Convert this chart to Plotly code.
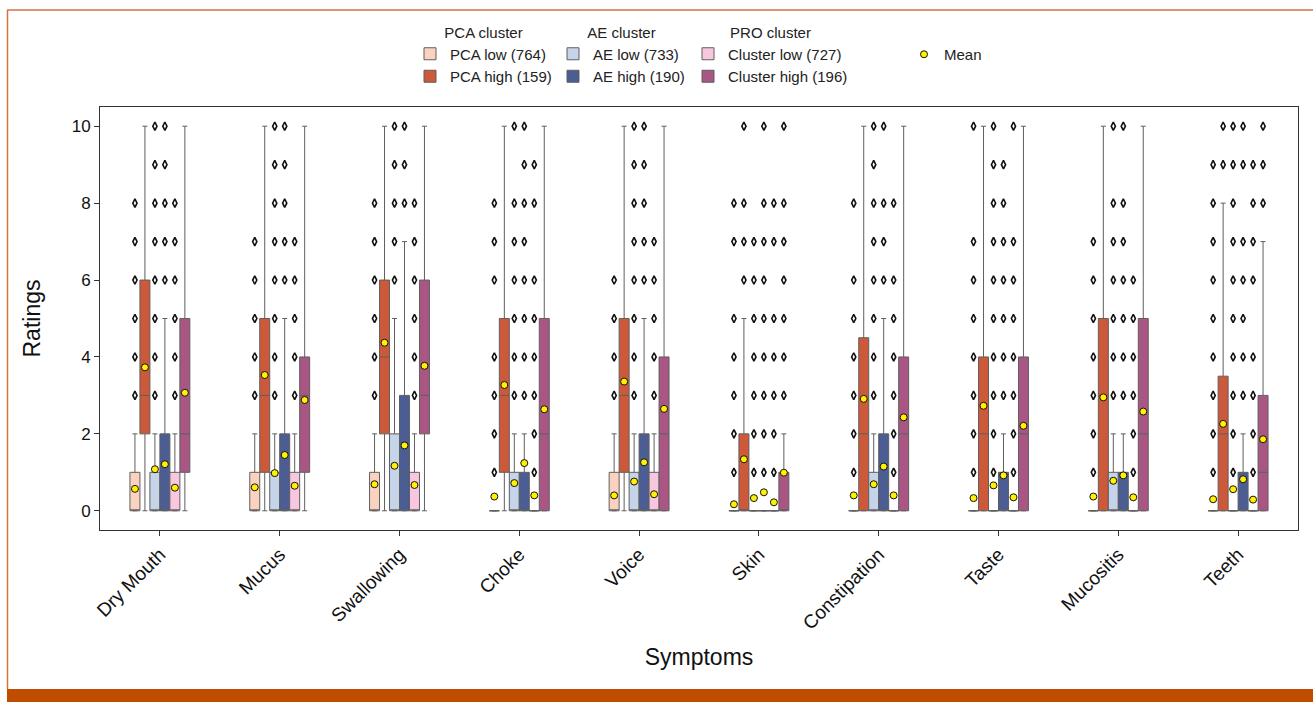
import plotly.graph_objects as go

# ---------------------------------------------------------------- data
SYMPTOMS = ["Dry Mouth", "Mucus", "Swallowing", "Choke", "Voice", "Skin",
            "Constipation", "Taste", "Mucositis", "Teeth"]

CLUSTER_NAMES = ["PCA low (764)", "PCA high (159)", "AE low (733)",
                 "AE high (190)", "Cluster low (727)", "Cluster high (196)"]

# PCA low
PCA_LOW_Q1 = [0, 0, 0, 0, 0, 0, 0, 0, 0, 0]
PCA_LOW_MED = [0, 0, 0, 0, 0, 0, 0, 0, 0, 0]
PCA_LOW_Q3 = [1, 1, 1, 0, 1, 0, 0, 0, 0, 0]
PCA_LOW_LO = [0, 0, 0, 0, 0, 0, 0, 0, 0, 0]
PCA_LOW_HI = [2, 2, 2, 0, 2, 0, 0, 0, 0, 0]
PCA_LOW_MEAN = [0.57, 0.61, 0.69, 0.37, 0.40, 0.17, 0.40, 0.33, 0.37, 0.30]
PCA_LOW_OUT = [[3, 4, 5, 6, 7, 8], [3, 4, 5, 6, 7], [3, 4, 5, 6, 7, 8],
               [1, 2, 3, 4, 6, 7, 8], [3, 4, 5, 6], [1, 2, 3, 4, 5, 7, 8],
               [1, 2, 3, 4, 5, 6, 8], [1, 2, 3, 4, 5, 6, 7, 10],
               [1, 2, 3, 4, 5, 6, 7], [1, 2, 3, 4, 5, 6, 7, 8, 9]]

# PCA high
PCA_HIGH_Q1 = [2, 1, 2, 1, 1, 0, 0, 0, 0, 0]
PCA_HIGH_MED = [3, 3, 4, 3, 3, 0, 2, 2, 3, 2]
PCA_HIGH_Q3 = [6, 5, 6, 5, 5, 2, 4.5, 4, 5, 3.5]
PCA_HIGH_LO = [0, 0, 0, 0, 0, 0, 0, 0, 0, 0]
PCA_HIGH_HI = [10, 10, 10, 10, 10, 5, 10, 10, 10, 8]
PCA_HIGH_MEAN = [3.73, 3.53, 4.37, 3.27, 3.36, 1.34, 2.91, 2.73, 2.95, 2.26]
PCA_HIGH_OUT = [[], [], [], [], [], [6, 7, 8, 10], [], [], [], [9, 10]]

# AE low
AE_LOW_Q1 = [0, 0, 0, 0, 0, 0, 0, 0, 0, 0]
AE_LOW_MED = [0, 0, 0, 0, 0, 0, 0, 0, 0, 0]
AE_LOW_Q3 = [1, 1, 2, 1, 1, 0, 1, 0, 1, 0]
AE_LOW_LO = [0, 0, 0, 0, 0, 0, 0, 0, 0, 0]
AE_LOW_HI = [2, 2, 5, 2, 2, 0, 2, 0, 2, 0]
AE_LOW_MEAN = [1.08, 0.98, 1.17, 0.72, 0.76, 0.33, 0.69, 0.66, 0.78, 0.56]
AE_LOW_OUT = [[3, 4, 5, 6, 7, 8, 9, 10], [3, 4, 5, 6, 7, 8, 9, 10],
              [6, 7, 8, 9, 10], [3, 4, 5, 6, 7, 8, 10],
              [3, 4, 5, 6, 7, 8, 9, 10], [1, 2, 3, 4, 5, 6, 7],
              [3, 4, 5, 6, 7, 8, 9, 10], [1, 2, 3, 4, 5, 6, 7, 8, 9, 10],
              [3, 4, 5, 6, 7, 8, 10], [1, 2, 3, 4, 5, 6, 7, 8, 9, 10]]

# AE high
AE_HIGH_Q1 = [0, 0, 0, 0, 0, 0, 0, 0, 0, 0]
AE_HIGH_MED = [0, 0, 1, 0, 0, 0, 0, 0, 0, 0]
AE_HIGH_Q3 = [2, 2, 3, 1, 2, 0, 2, 1, 1, 1]
AE_HIGH_LO = [0, 0, 0, 0, 0, 0, 0, 0, 0, 0]
AE_HIGH_HI = [5, 5, 7, 2, 5, 0, 5, 2, 2, 2]
AE_HIGH_MEAN = [1.21, 1.45, 1.70, 1.24, 1.26, 0.48, 1.15, 0.92, 0.92, 0.82]
AE_HIGH_OUT = [[6, 7, 8, 9, 10], [6, 7, 8, 9, 10], [8, 9, 10],
               [3, 4, 5, 6, 7, 8, 9, 10], [6, 7, 8, 9, 10],
               [1, 2, 3, 4, 5, 6, 7, 8, 10], [6, 7, 8, 10],
               [3, 4, 5, 6, 7, 8, 9], [3, 4, 5, 6, 7, 8, 10],
               [3, 4, 5, 6, 7, 9, 10]]

# PRO cluster low
PRO_LOW_Q1 = [0, 0, 0, 0, 0, 0, 0, 0, 0, 0]
PRO_LOW_MED = [0, 0, 0, 0, 0, 0, 0, 0, 0, 0]
PRO_LOW_Q3 = [1, 1, 1, 0, 1, 0, 0, 0, 0, 0]
PRO_LOW_LO = [0, 0, 0, 0, 0, 0, 0, 0, 0, 0]
PRO_LOW_HI = [2, 2, 2, 0, 2, 0, 0, 0, 0, 0]
PRO_LOW_MEAN = [0.60, 0.65, 0.67, 0.40, 0.43, 0.22, 0.40, 0.35, 0.35, 0.29]
PRO_LOW_OUT = [[3, 4, 5, 6, 7, 8], [3, 4, 5, 6, 7], [3, 4, 5, 6, 7, 8],
               [1, 2, 3, 4, 5, 6, 8, 9], [3, 4, 5, 6, 7],
               [1, 2, 3, 4, 5, 7, 8], [1, 2, 3, 4, 5, 6, 8],
               [1, 2, 3, 4, 5, 6, 7, 10], [1, 2, 3, 4, 5, 6],
               [1, 2, 3, 4, 6, 7, 8, 9]]

# PRO cluster high
PRO_HIGH_Q1 = [1, 1, 2, 0, 0, 0, 0, 0, 0, 0]
PRO_HIGH_MED = [2, 3, 3, 2, 2, 0, 2, 2, 2, 1]
PRO_HIGH_Q3 = [5, 4, 6, 5, 4, 1, 4, 4, 5, 3]
PRO_HIGH_LO = [0, 0, 0, 0, 0, 0, 0, 0, 0, 0]
PRO_HIGH_HI = [10, 10, 10, 10, 10, 2, 10, 10, 10, 7]
PRO_HIGH_MEAN = [3.07, 2.88, 3.77, 2.64, 2.65, 0.99, 2.43, 2.21, 2.58, 1.86]
PRO_HIGH_OUT = [[], [], [], [], [], [3, 4, 5, 6, 7, 8, 10], [], [], [],
                [8, 9, 10]]

Y_TICKS = [0, 2, 4, 6, 8, 10]

# ---------------------------------------------------------------- styling
COLORS = ["#FBD2C0", "#CD593B", "#C6D4EA", "#4B5D92", "#F9C6DF", "#A95684"]
LEGENDS = ["legend", "legend", "legend2", "legend2", "legend3", "legend3"]
BOX_LINE = "#5f5f5f"

clusters = [
    (PCA_LOW_Q1, PCA_LOW_MED, PCA_LOW_Q3, PCA_LOW_LO, PCA_LOW_HI, PCA_LOW_MEAN, PCA_LOW_OUT),
    (PCA_HIGH_Q1, PCA_HIGH_MED, PCA_HIGH_Q3, PCA_HIGH_LO, PCA_HIGH_HI, PCA_HIGH_MEAN, PCA_HIGH_OUT),
    (AE_LOW_Q1, AE_LOW_MED, AE_LOW_Q3, AE_LOW_LO, AE_LOW_HI, AE_LOW_MEAN, AE_LOW_OUT),
    (AE_HIGH_Q1, AE_HIGH_MED, AE_HIGH_Q3, AE_HIGH_LO, AE_HIGH_HI, AE_HIGH_MEAN, AE_HIGH_OUT),
    (PRO_LOW_Q1, PRO_LOW_MED, PRO_LOW_Q3, PRO_LOW_LO, PRO_LOW_HI, PRO_LOW_MEAN, PRO_LOW_OUT),
    (PRO_HIGH_Q1, PRO_HIGH_MED, PRO_HIGH_Q3, PRO_HIGH_LO, PRO_HIGH_HI, PRO_HIGH_MEAN, PRO_HIGH_OUT),
]

N_GROUP = len(clusters)
SLOT = 1.0 / 12.0          # width of one box in category units
cat_index = list(range(len(SYMPTOMS)))

fig = go.Figure()

mean_x, mean_y, out_x, out_y = [], [], [], []
for j, (q1, med, q3, lo, hi, mean, outs) in enumerate(clusters):
    offset = (j - (N_GROUP - 1) / 2) * SLOT
    xs = [i + offset for i in cat_index]
    fig.add_trace(go.Box(
        x=xs, q1=q1, median=med, q3=q3, lowerfence=lo, upperfence=hi,
        name=CLUSTER_NAMES[j], width=SLOT, whiskerwidth=0.5,
        fillcolor=COLORS[j], line=dict(color=BOX_LINE, width=1),
        boxpoints=False, legend=LEGENDS[j], hoverinfo="skip",
    ))
    for i in cat_index:
        mean_x.append(xs[i])
        mean_y.append(mean[i])
        for v in outs[i]:
            out_x.append(xs[i])
            out_y.append(v)

# outlier points
fig.add_trace(go.Scatter(
    x=out_x, y=out_y, mode="markers", showlegend=False, hoverinfo="skip",
    marker=dict(symbol="diamond-tall-open", size=6, color="#111111",
                line=dict(width=1.6, color="#111111")),
))

# means
fig.add_trace(go.Scatter(
    x=mean_x, y=mean_y, mode="markers", name="Mean", legend="legend4",
    hoverinfo="skip",
    marker=dict(symbol="circle", size=7, color="#FFF200",
                line=dict(width=1, color="#111111")),
))

# ---------------------------------------------------------------- layout
W, H = 1313, 702
ML, MR, MT, MB = 100, 15, 107, 172
PW, PH = W - ML - MR, H - MT - MB


def px_x(px):
    return (px - ML) / PW


def px_y(py):
    return (H - MB - py) / PH


FONT = "Liberation Sans, Arial, sans-serif"
NARROW = "Liberation Sans Narrow, Arial Narrow, Liberation Sans, sans-serif"

legend_common = dict(
    orientation="v", xanchor="left", yanchor="top", bgcolor="rgba(0,0,0,0)",
    font=dict(family=FONT, size=15, color="#222222"), tracegroupgap=0,
    itemclick=False, itemdoubleclick=False,
)
title_font = dict(family=FONT, size=15, color="#222222")

fig.update_layout(
    width=W, height=H,
    margin=dict(l=ML, r=MR, t=MT, b=MB),
    paper_bgcolor="white", plot_bgcolor="white",
    boxmode="overlay",
    font=dict(family=FONT, color="#111111"),
    legend=dict(x=px_x(410), y=px_y(18),
                title=dict(text="PCA cluster", side="top center",
                           font=title_font),
                **legend_common),
    legend2=dict(x=px_x(553), y=px_y(18),
                 title=dict(text="AE cluster", side="top center",
                            font=title_font),
                 **legend_common),
    legend3=dict(x=px_x(688), y=px_y(18),
                 title=dict(text="PRO cluster", side="top center",
                            font=title_font),
                 **legend_common),
    legend4=dict(x=px_x(904), y=px_y(38), **legend_common),
    xaxis=dict(
        range=[-0.5, len(SYMPTOMS) - 0.5],
        tickmode="array", tickvals=cat_index, ticktext=SYMPTOMS,
        tickangle=-45, ticks="outside", ticklen=5, tickcolor="#333333",
        tickfont=dict(family=FONT, size=19, color="#111111"),
        showline=True, linecolor="#333333", linewidth=1, mirror=True,
        showgrid=False, zeroline=False,
        title=dict(text="Symptoms", standoff=16,
                   font=dict(family=NARROW, size=23, color="#111111")),
    ),
    yaxis=dict(
        range=[-0.5, 10.5],
        tickmode="array", tickvals=Y_TICKS,
        ticks="outside", ticklen=5, tickcolor="#333333",
        tickfont=dict(family=FONT, size=17, color="#111111"),
        showline=True, linecolor="#333333", linewidth=1, mirror=True,
        showgrid=False, zeroline=False,
        title=dict(text="Ratings", standoff=24,
                   font=dict(family=NARROW, size=23, color="#111111")),
    ),
)

# page frame: thin orange rules top and left, thick bar at the bottom
FRAME = "#D2733D"
BAR = "#C04C00"
fig.add_shape(type="line", xref="paper", yref="paper",
              x0=px_x(7), x1=px_x(W), y0=px_y(10), y1=px_y(10),
              line=dict(color=FRAME, width=1.5), layer="above")
fig.add_shape(type="line", xref="paper", yref="paper",
              x0=px_x(7.5), x1=px_x(7.5), y0=px_y(10), y1=px_y(689),
              line=dict(color=FRAME, width=1.5), layer="above")
fig.add_shape(type="rect", xref="paper", yref="paper",
              x0=px_x(7), x1=px_x(W), y0=px_y(689), y1=px_y(H),
              line=dict(width=0), fillcolor=BAR, layer="above")

fig.write_html("out.html")
